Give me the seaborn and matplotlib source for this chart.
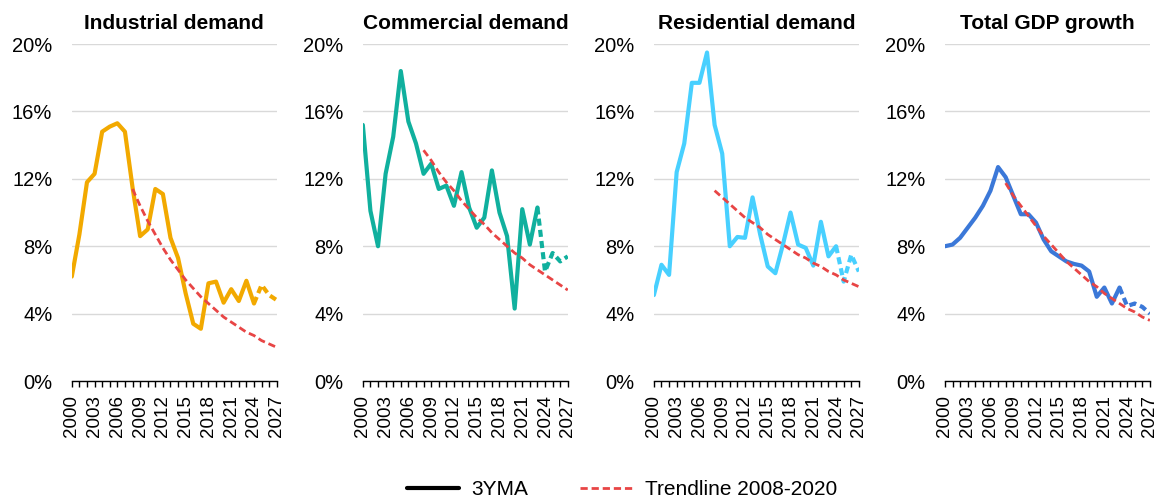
import matplotlib
matplotlib.use("Agg")
import pandas as pd
import matplotlib.pyplot as plt
import seaborn as sns
from matplotlib.lines import Line2D

# Data (growth rates in %)
YEARS = list(range(2000, 2028))
TREND_YEARS = list(range(2008, 2028))
TICK_YEARS = [2000, 2003, 2006, 2009, 2012, 2015, 2018, 2021, 2024, 2027]
Y_TICKS = [0, 4, 8, 12, 16, 20]

industrial_actual = [6.2, 8.7, 11.8, 12.3, 14.8, 15.1, 15.3, 14.8, 11.5, 8.6,
                     9.0, 11.4, 11.1, 8.5, 7.3, 5.2, 3.4, 3.1, 5.8, 5.9,
                     4.65, 5.45, 4.75, 5.95, 4.6]
industrial_forecast = [4.6, 5.7, 5.1, 4.8]
industrial_trend = [11.4, 10.4, 9.5, 8.7, 7.9, 7.2, 6.6, 6.0, 5.5, 5.0,
                    4.6, 4.2, 3.8, 3.5, 3.2, 2.9, 2.7, 2.4, 2.2, 2.0]

commercial_actual = [15.2, 10.1, 8.0, 12.3, 14.5, 18.4, 15.4, 14.1, 12.3, 12.9,
                     11.4, 11.6, 10.4, 12.4, 10.3, 9.1, 9.7, 12.5, 10.0, 8.6,
                     4.3, 10.2, 8.1, 10.3]
commercial_forecast = [10.3, 6.5, 7.6, 7.1, 7.4]
commercial_trend = [13.7, 13.1, 12.4, 11.8, 11.3, 10.7, 10.2, 9.7, 9.3, 8.8,
                    8.4, 8.0, 7.6, 7.3, 6.9, 6.6, 6.3, 6.0, 5.7, 5.4]

residential_actual = [5.1, 6.9, 6.3, 12.4, 14.1, 17.7, 17.7, 19.5, 15.2, 13.5,
                      8.0, 8.55, 8.5, 10.9, 8.7, 6.8, 6.4, 8.1, 10.0, 8.1,
                      7.9, 6.85, 9.45, 7.4, 8.0]
residential_forecast = [8.0, 5.9, 7.5, 6.5]
residential_trend = [11.3, 10.9, 10.5, 10.1, 9.7, 9.4, 9.1, 8.7, 8.4, 8.1,
                     7.8, 7.5, 7.3, 7.0, 6.8, 6.5, 6.3, 6.0, 5.8, 5.6]

gdp_actual = [8.0, 8.1, 8.5, 9.1, 9.7, 10.4, 11.3, 12.7, 12.1, 11.0,
              9.9, 9.9, 9.4, 8.4, 7.7, 7.4, 7.1, 6.95, 6.85, 6.5,
              5.0, 5.55, 4.6, 5.55]
gdp_forecast = [5.55, 4.45, 4.6, 4.4, 4.0]
gdp_trend = [11.75, 11.0, 10.4, 9.8, 9.2, 8.6, 8.1, 7.6, 7.1, 6.7,
             6.3, 5.9, 5.6, 5.2, 4.9, 4.6, 4.3, 4.1, 3.8, 3.6]

panels = [
    ("Industrial demand", "#F2A900", industrial_actual, industrial_forecast, industrial_trend),
    ("Commercial demand", "#10B09E", commercial_actual, commercial_forecast, commercial_trend),
    ("Residential demand", "#48D0FF", residential_actual, residential_forecast, residential_trend),
    ("Total GDP growth", "#3B78D8", gdp_actual, gdp_forecast, gdp_trend),
]

TREND_COLOR = "#E84545"
TREND_DASH = (0, (2.6, 1.4))

sns.set_theme(style="white")
plt.rcParams["font.family"] = ["Liberation Sans", "DejaVu Sans"]
plt.rcParams["text.color"] = "black"
plt.rcParams["xtick.color"] = "black"
plt.rcParams["ytick.color"] = "black"

fig, axes = plt.subplots(1, 4, figsize=(11.58, 5.01), dpi=100)
fig.subplots_adjust(left=0.062, right=0.993, bottom=0.2395, top=0.912, wspace=0.42)

for ax, (title, color, actual, forecast, trend) in zip(axes, panels):
    act = pd.DataFrame({"year": YEARS[:len(actual)], "value": actual})
    fc = pd.DataFrame({"year": YEARS[-len(forecast):], "value": forecast})
    tr = pd.DataFrame({"year": TREND_YEARS, "value": trend})

    sns.lineplot(data=tr, x="year", y="value", ax=ax, color=TREND_COLOR,
                 linewidth=2.0, linestyle=TREND_DASH, zorder=4)
    sns.lineplot(data=act, x="year", y="value", ax=ax, color=color,
                 linewidth=3.0, zorder=3)
    sns.lineplot(data=fc, x="year", y="value", ax=ax, color=color,
                 linewidth=3.0, linestyle=(0, (1.7, 1.0)), zorder=3)

    ax.set_xlim(2000, 2027)
    ax.set_ylim(0, 20)
    ax.set_yticks(Y_TICKS)
    ax.set_yticklabels([f"{v}%" for v in Y_TICKS])
    ax.set_xticks(YEARS)
    ax.set_xticklabels([str(y) if y in TICK_YEARS else "" for y in YEARS], rotation=90)
    ax.set_xlabel("")
    ax.set_ylabel("")
    ax.set_axisbelow(True)
    ax.yaxis.grid(True, color="#D9D9D9", linewidth=1.0)
    ax.xaxis.grid(False)
    for side in ["left", "right", "top"]:
        ax.spines[side].set_visible(False)
    ax.spines["bottom"].set_color("black")
    ax.spines["bottom"].set_linewidth(1.0)
    ax.tick_params(axis="x", direction="out", length=4, width=1, color="black",
                   pad=6, labelsize=13.5, bottom=True)
    ax.tick_params(axis="y", length=0, pad=14, labelsize=14.5)
    ax.set_title(title, fontsize=15, fontweight="bold", pad=11, color="black")

handles = [
    Line2D([], [], color="black", linewidth=3.0),
    Line2D([], [], color=TREND_COLOR, linewidth=2.0, linestyle=TREND_DASH),
]
fig.legend(handles, ["3YMA", "Trendline 2008-2020"], loc="center",
           bbox_to_anchor=(0.537, 0.022), ncol=2, frameon=False, fontsize=15,
           handlelength=2.5, handletextpad=0.6, columnspacing=2.5)

plt.savefig("out.png", dpi=100)
